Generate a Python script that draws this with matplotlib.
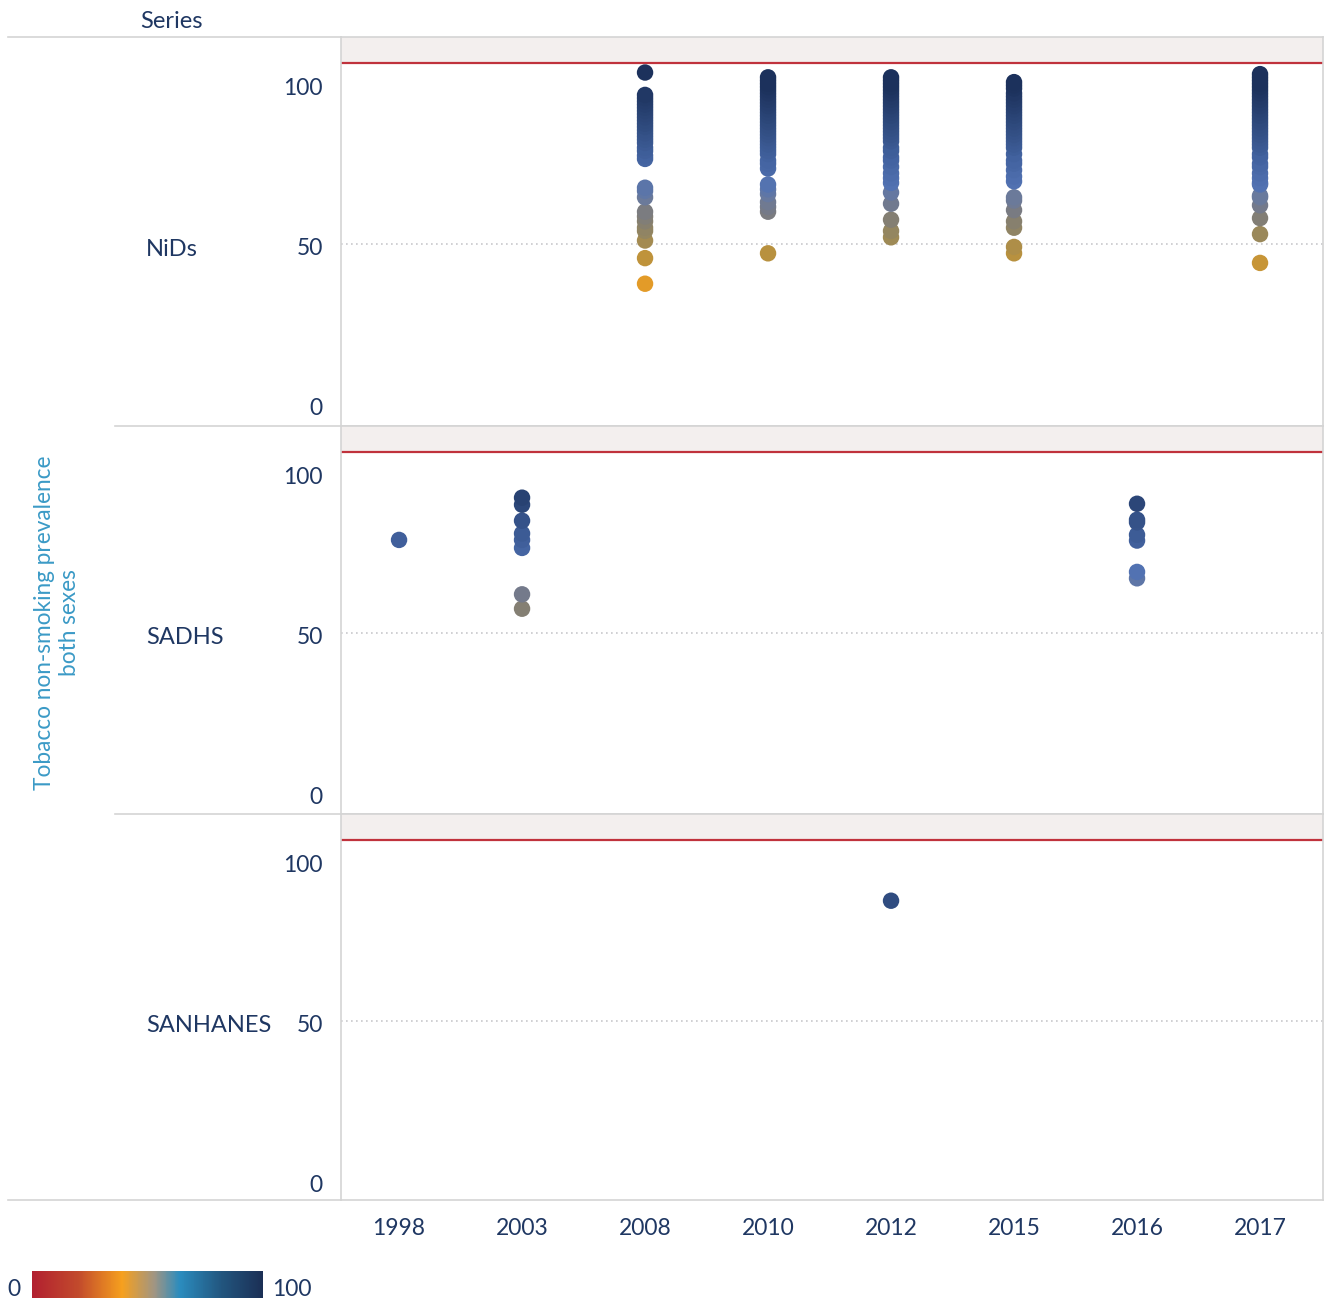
import matplotlib
matplotlib.use("Agg")
import matplotlib.pyplot as plt
from matplotlib.colors import LinearSegmentedColormap, Normalize
from matplotlib.lines import Line2D
from matplotlib.transforms import ScaledTranslation
import matplotlib.cm as cm

plt.rcParams['font.family'] = ['Lato', 'DejaVu Sans']

# ---- data -------------------------------------------------------------
years = ["1998", "2003", "2008", "2010", "2012", "2015", "2016", "2017"]
series_names = ["NiDs", "SADHS", "SANHANES"]

nids_2008 = [103.5, 96.5, 95.5, 94.5, 93.5, 92.5, 91.5, 90.5, 89.5, 88.5, 87.5,
             86.5, 85.5, 84.5, 83.5, 82.5, 81.5, 80, 79, 77.5, 76.5, 67.5, 66.5,
             64.5, 60, 58.5, 57, 55, 54, 51, 45.5, 37.5]
nids_2010 = [102, 101, 100, 99, 98, 97, 96, 95, 94, 93, 92, 91, 90, 89, 88, 87,
             86, 85, 84, 83, 82, 81, 80, 79, 78, 76, 75, 73.5, 68.5, 67, 65.5,
             63, 61.5, 60, 47]
nids_2012 = [102, 101, 100, 99, 98, 97, 96, 95, 94, 93, 92, 91, 90, 89, 88, 87,
             86, 85, 84, 83, 82, 80, 79, 77, 76, 74, 72, 70.5, 69, 66, 62.5,
             57.5, 54, 52]
nids_2015 = [100.5, 99.5, 98.5, 97, 96, 95, 94, 93, 92, 91, 90, 89, 88, 87, 86,
             85, 84, 83, 82, 81, 80, 78, 76, 75, 73, 71, 69.5, 64.5, 63.5, 60.5,
             57, 55, 49, 47]
nids_2017 = [103, 102, 101, 100, 99, 98, 97, 96, 95, 94, 93, 92, 91, 90, 89, 88,
             87, 86, 85, 84, 83, 82, 81, 80, 78, 77, 75, 74, 72, 70.5, 69, 68.5,
             65, 64.5, 62, 58, 53, 44]
sadhs_1998 = [79]
sadhs_2003 = [92.2, 90, 85, 81, 79, 76.5, 62, 57.5]
sadhs_2016 = [90.3, 85.3, 84.5, 80.6, 78.8, 69, 67]
sanhanes_2012 = [87.5]

panel_data = {
    "NiDs": {"2008": nids_2008, "2010": nids_2010, "2012": nids_2012,
             "2015": nids_2015, "2017": nids_2017},
    "SADHS": {"1998": sadhs_1998, "2003": sadhs_2003, "2016": sadhs_2016},
    "SANHANES": {"2012": sanhanes_2012},
}

y_ticks = [0, 50, 100]
target_line = 106.4

# ---- styling ----------------------------------------------------------
W, H = 1325, 1299
navy = "#1f3762"
grid_gray = "#d4d4d4"
tick_fs = 16.5
label_fs = 17

point_cmap = LinearSegmentedColormap.from_list("points", [
    (0.00, "#b22030"), (0.38, "#e39c28"), (0.47, "#b8913f"), (0.52, "#9f8a55"),
    (0.57, "#86806f"), (0.61, "#777a85"), (0.65, "#6a7a9c"), (0.69, "#5272b2"),
    (0.78, "#42629f"), (0.88, "#304c80"), (1.00, "#1c315c")])
legend_cmap = LinearSegmentedColormap.from_list("legend", [
    (0.00, "#b22030"), (0.20, "#c24a2c"), (0.39, "#f6a01e"), (0.53, "#a09583"),
    (0.64, "#2b8cbe"), (0.82, "#22567f"), (1.00, "#1b2f55")])
norm = Normalize(0, 100)


def fx(px):
    return px / W


def fy(py):
    return 1 - py / H


fig = plt.figure(figsize=(W / 100, H / 100), dpi=100)
shift_down = ScaledTranslation(0, -2.5 / 100, fig.dpi_scale_trans)

left_px, right_px = 341, 1323
row_edges = [37, 426, 814, 1200]
x_pos = {y: i for i, y in enumerate(years)}

for r, name in enumerate(series_names):
    top, bot = row_edges[r], row_edges[r + 1]
    ax = fig.add_axes([fx(left_px), fy(bot), fx(right_px - left_px), (bot - top) / H])
    ax.set_xlim(-0.472, len(years) - 0.488)
    ymax = 114.6
    ymin = ymax - (bot - top) / 3.2
    ax.set_ylim(ymin, ymax)
    ax.axhspan(target_line, ymax, color="#f3efee", zorder=0, lw=0)
    ax.axhline(target_line, color="#c0323c", lw=1.6, zorder=1)
    ax.axhline(50, color="#c8c8cc", lw=1.2, ls=(0, (1, 2)), zorder=1)
    for yr, vals in panel_data[name].items():
        order = sorted(vals)
        ax.scatter([x_pos[yr]] * len(order), order, c=order, cmap=point_cmap,
                   norm=norm, s=140, edgecolors="none", zorder=3)
    ax.set_yticks(y_ticks)
    ax.set_yticklabels([str(t) for t in y_ticks], fontsize=tick_fs, color=navy)
    ax.tick_params(axis="y", length=0, pad=13)
    for tick in ax.yaxis.get_major_ticks():
        tick.label1.set_transform(tick.label1.get_transform() + shift_down)
    ax.set_xticks(range(len(years)))
    if r == len(series_names) - 1:
        ax.set_xticklabels(years, fontsize=tick_fs, color=navy)
        ax.tick_params(axis="x", length=0, pad=13)
    else:
        ax.tick_params(axis="x", length=0, labelbottom=False)
    for s in ax.spines.values():
        s.set_color(grid_gray)
        s.set_linewidth(1.2)
    ax.set_facecolor("white")
    # row header
    fig.text(fx(146), fy((top + bot) / 2 + 18), name, fontsize=label_fs, color=navy,
             ha="left", va="center")

# header and row separators on the left side
fig.add_artist(Line2D([fx(8), fx(left_px)], [fy(37), fy(37)], color=grid_gray, lw=1.2))
fig.add_artist(Line2D([fx(8), fx(left_px)], [fy(1200), fy(1200)], color=grid_gray, lw=1.2))
for yy in (426, 814):
    fig.add_artist(Line2D([fx(115), fx(left_px)], [fy(yy), fy(yy)], color=grid_gray, lw=1.2))

fig.text(fx(171), fy(21), "Series", fontsize=label_fs, color=navy, ha="center", va="center")
fig.text(fx(57), fy(623), "Tobacco non-smoking prevalence\nboth sexes", fontsize=16.3,
         color="#3b9ac6", rotation=90, ha="center", va="center", linespacing=1.25)

# colour legend
cax = fig.add_axes([fx(32), fy(1298), fx(263 - 32), 27 / H])
cb = fig.colorbar(cm.ScalarMappable(norm=norm, cmap=legend_cmap), cax=cax,
                  orientation="horizontal")
cb.outline.set_visible(False)
cb.set_ticks([])
fig.text(fx(14), fy(1289), "0", fontsize=tick_fs, color=navy, ha="center", va="center")
fig.text(fx(272), fy(1289), "100", fontsize=tick_fs, color=navy, ha="left", va="center")

fig.savefig("out.png", dpi=100)
